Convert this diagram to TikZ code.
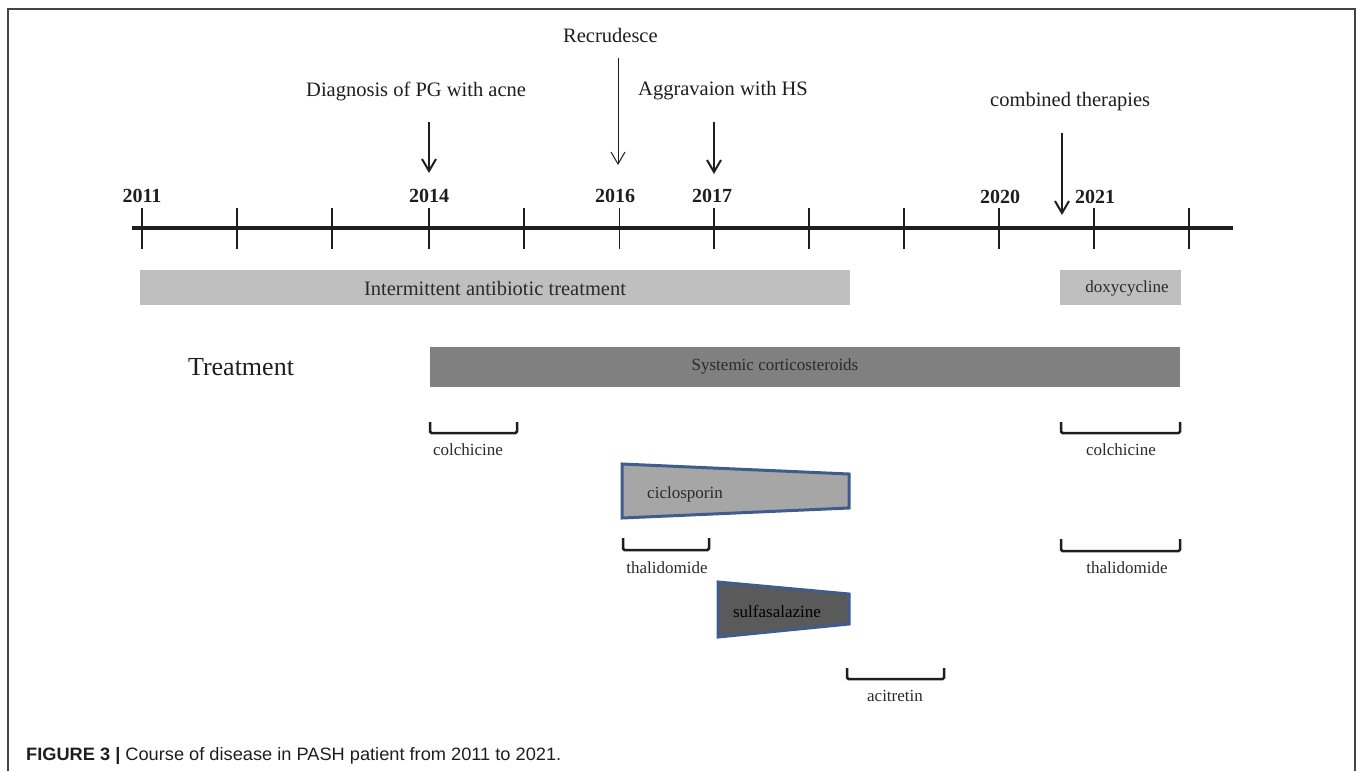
\documentclass[tikz,border=0pt]{standalone}
\usepackage{fontspec}
\setmainfont{Liberation Serif}
\newfontfamily\capfont{Liberation Sans}
\usetikzlibrary{arrows.meta}
\definecolor{framec}{HTML}{444444}
\definecolor{txt}{HTML}{1E1E1E}
\definecolor{boxtxt}{HTML}{2A2A2A}
\definecolor{lightbar}{HTML}{BFBFBF}
\definecolor{darkbar}{HTML}{808080}
\definecolor{cicfill}{HTML}{A6A6A6}
\definecolor{sulffill}{HTML}{5A5A5A}
\definecolor{trapborder}{HTML}{3E5D8C}
\tikzset{
  lbl/.style={text=txt, inner sep=0pt, font=\fontsize{20.5}{24}\selectfont},
  yr/.style={text=txt, inner sep=0pt, font=\fontsize{20}{24}\selectfont\bfseries},
  smalllbl/.style={text=boxtxt, inner sep=0pt, font=\fontsize{17}{20}\selectfont},
  brk/.style={line width=2.5pt, draw=txt, rounded corners=1.5pt},
  tick/.style={line width=2.5pt, draw=txt},
  thickarr/.style={line width=2pt, draw=txt, -{Straight Barb[length=12pt,width=14pt,line width=2pt]}},
  thinarr/.style={line width=1pt, draw=txt, -{Straight Barb[length=12pt,width=14pt,line width=1pt]}},
  trap/.style={line width=3pt, draw=trapborder, line join=miter}
}
\begin{document}
\begin{tikzpicture}[x=1pt,y=-1pt]
\useasboundingbox (0,0) rectangle (1357,771);
% frame
\draw[line width=2pt, framec] (8,771) -- (8,9) -- (1355,9) -- (1355,771);

% axis
\coordinate (axL) at (132,228);
\coordinate (axR) at (1233,228);
\draw[line width=4pt, txt] (axL) -- (axR);
\foreach \i/\x in {0/142,1/237,2/332,3/429,4/524,6/714,7/809,8/904,9/999,10/1094,11/1189}{
  \coordinate (tt\i) at (\x,208);
  \coordinate (tb\i) at (\x,249);
  \draw[tick] (tt\i) -- (tb\i);
}
\coordinate (tt5) at (619,208);
\coordinate (tb5) at (619,249);
\draw[line width=1pt, txt] (tt5) -- (tb5);

% years
\node[yr, anchor=base] (y2011) at (142,202) {2011};
\node[yr, anchor=base] (y2014) at (429,202) {2014};
\node[yr, anchor=base] (y2016) at (615,202) {2016};
\node[yr, anchor=base] (y2017) at (712,202) {2017};
\node[yr, anchor=base] (y2020) at (1000,203) {2020};
\node[yr, anchor=base] (y2021) at (1095,203) {2021};

% event labels and arrows
\node[lbl, anchor=base west] (diag) at (306,96) {Diagnosis of PG with acne};
\node[lbl, anchor=base west] (recr) at (563,42) {Recrudesce};
\node[lbl, anchor=base west] (aggr) at (638,95) {Aggravaion with HS};
\node[lbl, anchor=base west] (comb) at (990,106) {combined therapies};

\coordinate (a1s) at (429,122); \coordinate (a1e) at (429,173);
\coordinate (a2s) at (618,58);  \coordinate (a2e) at (618,165);
\coordinate (a3s) at (714,122); \coordinate (a3e) at (714,174);
\coordinate (a4s) at (1062,133); \coordinate (a4e) at (1062,215);
\draw[thickarr] (a1s) -- (a1e);
\draw[thinarr] (a2s) -- (a2e);
\draw[thickarr] (a3s) -- (a3e);
\draw[thickarr] (a4s) -- (a4e);

% bars
\fill[lightbar] (140,270) rectangle (850,305);
\node[lbl, text=boxtxt] (anti) at (495,288) {Intermittent antibiotic treatment};
\fill[lightbar] (1060,270) rectangle (1181,305);
\node[smalllbl] (doxy) at (1127,288) {doxycycline};
\fill[darkbar] (430,347) rectangle (1180,387);
\node[smalllbl] (cort) at (775,366) {Systemic corticosteroids};
\node[text=txt, inner sep=0pt, font=\fontsize{26}{30}\selectfont, anchor=base] (treat) at (241,375) {Treatment};

% brackets
\draw[brk] (430,422) -- (430,433) -- (517,433) -- (517,422);
\node[smalllbl, anchor=base] (colL) at (468,455) {colchicine};
\draw[brk] (1061,422) -- (1061,433) -- (1180,433) -- (1180,422);
\node[smalllbl, anchor=base] (colR) at (1121,455) {colchicine};
\draw[brk] (623,538) -- (623,550) -- (709,550) -- (709,538);
\node[smalllbl, anchor=base] (thalL) at (667,573) {thalidomide};
\draw[brk] (1061,539) -- (1061,551) -- (1180,551) -- (1180,539);
\node[smalllbl, anchor=base] (thalR) at (1127,573) {thalidomide};
\draw[brk] (847,668) -- (847,679) -- (944,679) -- (944,668);
\node[smalllbl, anchor=base] (acit) at (895,701) {acitretin};

% trapezoids
\draw[trap, fill=cicfill] (622,464) -- (849,474) -- (849,508) -- (622,518) -- cycle;
\node[smalllbl, anchor=base] (cicl) at (685,498) {ciclosporin};
\draw[trap, fill=sulffill] (718,582) -- (849,594) -- (849,624) -- (718,637) -- cycle;
\node[smalllbl, text=black, anchor=base] (sulf) at (777,617) {sulfasalazine};

% caption
\node[anchor=base west, inner sep=0pt, text=txt] (cap) at (26,760)
  {\resizebox{535pt}{13pt}{\capfont\textbf{FIGURE 3 |} Course of disease in PASH patient from 2011 to 2021.}};
\end{tikzpicture}
\end{document}
